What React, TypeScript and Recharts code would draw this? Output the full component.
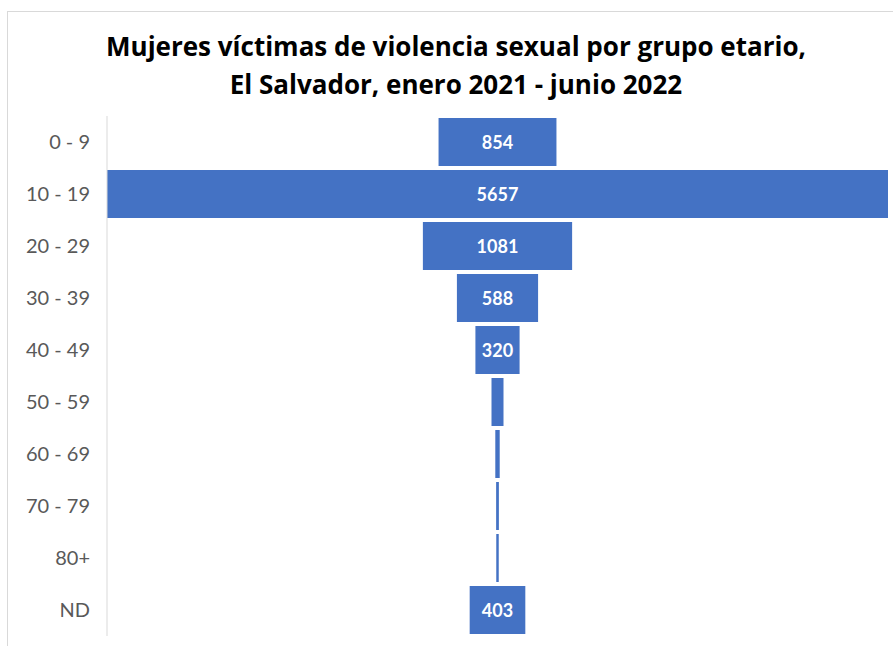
import { BarChart, Bar, XAxis, YAxis, LabelList } from 'recharts'

const ageGroups = ['0 - 9', '10 - 19', '20 - 29', '30 - 39', '40 - 49', '50 - 59', '60 - 69', '70 - 79', '80+', 'ND']
const victims = [854, 5657, 1081, 588, 320, 87, 32, 20, 18, 403]
// only the wider bars carry a label in the original
const labelledMin = 200

const maxVal = Math.max(...victims)

const data = ageGroups.map((g, i) => ({
  group: g,
  pad: (maxVal - victims[i]) / 2,
  value: victims[i],
}))

const BarLabel = (props: any) => {
  const { x, y, width, height, value } = props
  if (value < labelledMin) return null
  return (
    <text
      x={x + width / 2}
      y={y + height / 2}
      textAnchor='middle'
      dominantBaseline='central'
      fill='#ffffff'
      fontFamily='Lato, sans-serif'
      fontWeight='bold'
      fontSize={18}
    >
      {value}
    </text>
  )
}

export default function App() {
  return (
    <div style={{ position: 'absolute', left: 0, top: 0, width: 893, height: 646, background: '#fff' }}>
      <div
        style={{
          position: 'absolute',
          left: 7,
          top: 11,
          width: 900,
          height: 700,
          borderTop: '1px solid #d9d9d9',
          borderLeft: '1px solid #d9d9d9',
        }}
      />
      <div
        style={{
          position: 'absolute',
          left: 0,
          top: 27,
          width: 912,
          textAlign: 'center',
          fontFamily: '"Open Sans", sans-serif',
          fontWeight: 'bold',
          fontSize: 26,
          lineHeight: '38px',
          color: '#000',
          whiteSpace: 'nowrap',
        }}
      >
        Mujeres víctimas de violencia sexual por grupo etario,
        <br />
        El Salvador, enero 2021 - junio 2022
      </div>
      <div style={{ position: 'absolute', left: 0, top: 0 }}>
        <BarChart
          width={893}
          height={646}
          data={data}
          layout='vertical'
          margin={{ top: 116, right: 5, bottom: 10, left: 0 }}
          barSize={48}
        >
          <XAxis type='number' hide domain={[0, maxVal]} allowDataOverflow />
          <YAxis
            type='category'
            dataKey='group'
            width={107}
            axisLine={{ stroke: '#d9d9d9' }}
            tickLine={false}
            tickMargin={11}
            tick={{ fill: '#595959', fontSize: 20, fontFamily: 'Lato, sans-serif' }}
            interval={0}
          />
          <Bar dataKey='pad' stackId='f' fill='transparent' isAnimationActive={false} />
          <Bar dataKey='value' stackId='f' fill='#4472C4' isAnimationActive={false}>
            <LabelList dataKey='value' content={BarLabel} />
          </Bar>
        </BarChart>
      </div>
    </div>
  )
}
